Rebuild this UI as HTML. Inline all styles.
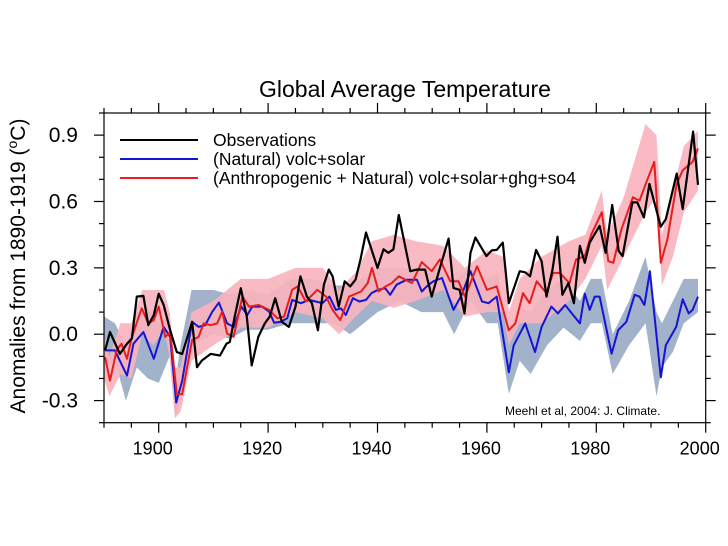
<!DOCTYPE html>
<html><head><meta charset="utf-8"><style>
html,body{margin:0;padding:0;background:#fff;}
svg{display:block;font-family:"Liberation Sans",sans-serif;}
</style></head><body>
<svg id="chart" width="728" height="546" viewBox="0 0 728 546" xmlns="http://www.w3.org/2000/svg">
<text x="405" y="97" text-anchor="middle" font-size="23">Global Average Temperature</text>
<text transform="translate(25,266) rotate(-90)" text-anchor="middle" font-size="21">Anomalies from 1890-1919 (<tspan font-size="14" dy="-8">o</tspan><tspan dy="8">C)</tspan></text>
<g id="bands"></g><g id="lines"></g><g id="axes"></g>
<g>
<line x1="120" y1="140" x2="198" y2="140" stroke="#000" stroke-width="2"/>
<text x="213" y="146" font-size="17.5">Observations</text>
<line x1="120" y1="159" x2="198" y2="159" stroke="#1414d2" stroke-width="2"/>
<text x="213" y="165" font-size="17.5">(Natural) volc+solar</text>
<line x1="120" y1="178" x2="198" y2="178" stroke="#e61e1e" stroke-width="2"/>
<text x="213" y="184" font-size="17.5">(Anthropogenic + Natural) volc+solar+ghg+so4</text>
</g>
<text x="505" y="415" font-size="12">Meehl et al, 2004:  J. Climate.</text>
</svg>
<script>
const obsYears=[1890.2,1891.1,1892.9,1894.2,1895.1,1896.0,1897.2,1898.1,1899.1,1900.0,1900.9,1902.1,1903.3,1904.3,1906.1,1907.0,1907.9,1909.5,1911.2,1912.4,1913.0,1913.9,1915.0,1916.1,1917.0,1918.2,1919.4,1920.3,1921.3,1922.5,1923.8,1925.0,1925.9,1927.1,1928.0,1929.1,1930.2,1931.1,1931.8,1932.9,1934.0,1935.0,1936.0,1936.9,1937.9,1939.0,1940.0,1941.1,1942.0,1942.9,1943.9,1946.0,1947.2,1948.7,1949.9,1951.4,1953.0,1953.9,1955.0,1955.9,1957.0,1957.9,1959.9,1960.9,1961.8,1962.9,1964.0,1966.0,1967.0,1967.9,1969.0,1970.0,1970.9,1972.0,1972.9,1973.8,1974.9,1975.9,1977.0,1977.9,1978.8,1980.6,1981.7,1982.9,1984.1,1984.8,1986.6,1987.5,1988.7,1989.7,1991.8,1992.7,1994.7,1995.8,1997.7,1998.6];
const obsValues=[-0.073,0.01,-0.089,-0.043,-0.019,0.17,0.173,0.041,0.087,0.183,0.133,0.018,-0.081,-0.089,0.056,-0.149,-0.119,-0.089,-0.096,-0.043,-0.035,0.079,0.208,0.079,-0.141,-0.012,0.049,0.079,0.163,0.056,0.033,0.125,0.262,0.17,0.14,0.018,0.224,0.292,0.262,0.125,0.239,0.216,0.247,0.338,0.46,0.376,0.3,0.384,0.368,0.384,0.539,0.285,0.292,0.292,0.17,0.3,0.432,0.209,0.201,0.094,0.368,0.437,0.353,0.379,0.381,0.414,0.14,0.285,0.28,0.262,0.381,0.33,0.17,0.292,0.441,0.178,0.231,0.14,0.399,0.323,0.414,0.49,0.368,0.584,0.376,0.353,0.596,0.596,0.528,0.68,0.486,0.52,0.726,0.566,0.916,0.675];
const antYears=[1890.2,1891.1,1892.3,1893.2,1894.2,1895.1,1896.9,1898.1,1899.1,1900.0,1901.2,1902.1,1903.3,1904.3,1906.1,1907.3,1908.2,1909.5,1910.7,1911.6,1912.5,1913.7,1915.3,1916.5,1918.3,1920.2,1921.7,1922.9,1924.4,1925.4,1926.9,1929.0,1930.6,1931.8,1933.2,1934.8,1937.0,1938.2,1939.0,1940.2,1941.5,1942.6,1943.9,1946.3,1948.1,1949.9,1951.4,1953.3,1954.8,1956.0,1958.2,1960.0,1961.8,1964.0,1965.2,1966.6,1967.8,1969.1,1970.9,1972.1,1973.3,1975.1,1976.3,1977.9,1979.1,1981.0,1982.2,1983.1,1984.6,1986.7,1987.9,1989.4,1990.6,1991.8,1993.0,1994.7,1995.8,1997.6,1998.6];
const antValues=[-0.104,-0.21,-0.073,-0.043,-0.111,-0.012,0.117,0.049,0.064,0.125,-0.012,0.01,-0.271,-0.271,-0.027,-0.012,0.049,0.041,0.049,0.102,0.003,-0.012,0.17,0.125,0.132,0.11,0.072,0.079,0.201,0.216,0.148,0.201,0.17,0.11,0.064,0.17,0.193,0.231,0.3,0.193,0.216,0.231,0.262,0.231,0.326,0.285,0.338,0.239,0.239,0.17,0.307,0.201,0.216,0.018,0.049,0.186,0.14,0.239,0.186,0.277,0.277,0.231,0.338,0.353,0.452,0.551,0.33,0.323,0.475,0.619,0.604,0.703,0.779,0.323,0.429,0.68,0.741,0.779,0.84];
const natYears=[1890.2,1891.1,1892.0,1894.2,1895.4,1897.2,1899.1,1900.9,1902.1,1903.2,1904.3,1906.1,1907.3,1908.5,1909.8,1911.0,1912.5,1913.7,1915.1,1916.2,1917.1,1918.9,1920.2,1921.1,1922.3,1923.5,1924.4,1926.0,1927.5,1928.7,1929.9,1931.2,1932.4,1933.3,1934.2,1935.5,1936.7,1937.9,1938.9,1940.1,1941.4,1942.3,1943.5,1945.3,1947.2,1948.1,1949.0,1950.2,1951.8,1953.9,1955.4,1957.0,1959.1,1960.3,1961.8,1964.0,1964.9,1967.0,1968.8,1970.0,1971.8,1973.0,1974.3,1977.0,1977.9,1978.8,1979.7,1980.6,1982.8,1984.0,1985.5,1987.0,1987.9,1988.8,1989.8,1991.8,1992.7,1994.6,1995.8,1996.9,1997.6,1998.6];
const natValues=[-0.073,-0.073,-0.073,-0.187,-0.043,0.01,-0.111,0.033,-0.012,-0.309,-0.21,0.056,0.033,0.041,0.102,0.143,0.049,0.033,0.125,0.087,0.125,0.125,0.102,0.052,0.056,0.072,0.155,0.14,0.155,0.148,0.14,0.17,0.11,0.117,0.087,0.163,0.148,0.155,0.186,0.201,0.208,0.178,0.224,0.246,0.246,0.193,0.216,0.239,0.254,0.11,0.178,0.285,0.148,0.14,0.17,-0.172,-0.05,0.049,-0.081,0.033,0.125,0.094,0.132,0.049,0.183,0.11,0.17,0.17,-0.088,0.018,0.056,0.178,0.17,0.132,0.285,-0.195,-0.05,0.033,0.158,0.094,0.11,0.17];
const antBandYears=[1890,1891,1893,1895,1897,1899,1901,1902,1903,1904,1906,1910,1915,1920,1925,1930,1933,1936,1939,1943,1947,1952,1956,1960,1963,1964,1966,1970,1975,1978,1981,1982,1985,1989,1991,1992,1994,1996,1998.6];
const antBandLow=[-0.2,-0.28,-0.18,-0.2,0.0,-0.05,0.02,-0.1,-0.38,-0.35,-0.12,-0.05,0.03,0.03,0.1,0.07,0.0,0.08,0.15,0.12,0.15,0.2,0.08,0.1,0.1,-0.05,0.05,0.05,0.15,0.25,0.4,0.2,0.35,0.55,0.62,0.22,0.35,0.55,0.65];
const antBandHigh=[0.0,-0.1,0.05,0.05,0.2,0.2,0.2,0.1,-0.15,-0.15,0.1,0.15,0.25,0.25,0.3,0.3,0.2,0.28,0.42,0.45,0.42,0.4,0.3,0.38,0.35,0.1,0.25,0.35,0.42,0.45,0.65,0.45,0.62,0.95,0.9,0.45,0.65,0.85,0.92];
const natBandYears=[1890,1892,1894,1896,1898,1900,1902,1903,1904,1906,1910,1913,1916,1920,1924,1928,1932,1935,1940,1944,1948,1952,1954,1957,1960,1962,1964,1966,1968,1971,1974,1977,1979,1981,1983,1986,1989,1991,1992,1994,1996,1998.6];
const natBandLow=[-0.15,-0.12,-0.3,-0.15,-0.2,-0.22,-0.1,-0.38,-0.3,-0.05,0.0,-0.02,0.02,0.02,0.05,0.05,0.05,0.0,0.1,0.15,0.1,0.1,0.0,0.15,0.05,0.05,-0.27,-0.12,-0.18,-0.05,0.03,-0.03,0.05,0.05,-0.18,-0.05,0.05,-0.28,-0.15,-0.08,0.05,0.1];
const natBandHigh=[0.08,0.05,-0.05,0.1,0.12,0.05,0.1,-0.22,-0.05,0.2,0.2,0.18,0.2,0.18,0.25,0.25,0.22,0.22,0.3,0.3,0.3,0.3,0.25,0.3,0.25,0.28,0.0,0.12,0.1,0.2,0.25,0.15,0.25,0.25,0.0,0.15,0.35,0.1,0.05,0.15,0.25,0.25];
const xTickLabels=[1900,1920,1940,1960,1980,2000];
const yTickLabels=[-0.3,0.0,0.3,0.6,0.9];

const NS="http://www.w3.org/2000/svg";
const L=104,R=705.7,T=113,B=422.7,X0=1890,X1=2000,Y0=-0.4,Y1=1.0;
function sx(v){return L+(v-X0)/(X1-X0)*(R-L);}
function sy(v){return B-(v-Y0)/(Y1-Y0)*(B-T);}
function mk(tag,attrs,parent){const e=document.createElementNS(NS,tag);for(const k in attrs)e.setAttribute(k,attrs[k]);parent.appendChild(e);return e;}
const bands=document.getElementById('bands'),lines=document.getElementById('lines'),axes=document.getElementById('axes');
function bandPath(ys,lo,hi){let d='';ys.forEach((y,i)=>{d+=(i?'L':'M')+sx(y).toFixed(1)+','+sy(hi[i]).toFixed(1);});for(let i=ys.length-1;i>=0;i--)d+='L'+sx(ys[i]).toFixed(1)+','+sy(lo[i]).toFixed(1);return d+'Z';}
function linePath(ys,vs){return ys.map((y,i)=>(i?'L':'M')+sx(y).toFixed(1)+','+sy(vs[i]).toFixed(1)).join('');}
let e;
e=mk('path',{d:bandPath(natBandYears,natBandLow,natBandHigh),fill:'#a3b2cb'},bands);


e=mk('path',{d:bandPath(antBandYears,antBandLow,antBandHigh),fill:'#f9b2bd','fill-opacity':'0.9'},bands);


e=mk('path',{d:linePath(natYears,natValues),fill:'none',stroke:'#1414d2','stroke-width':2,'stroke-linejoin':'round'},lines);


e=mk('path',{d:linePath(antYears,antValues),fill:'none',stroke:'#e61e1e','stroke-width':2,'stroke-linejoin':'round'},lines);


e=mk('path',{d:linePath(obsYears,obsValues),fill:'none',stroke:'#000','stroke-width':2.2,'stroke-linejoin':'round'},lines);


e=mk('rect',{x:L,y:T,width:R-L,height:B-T,fill:'none',stroke:'#000','stroke-width':1.2},axes);


for(let yr=1890;yr<=2000;yr+=5){const maj=yr%20===0;const len=maj?10:5;const x=sx(yr);
 mk('line',{x1:x,y1:B,x2:x,y2:B+len,stroke:'#000','stroke-width':1.2},axes);
 mk('line',{x1:x,y1:T,x2:x,y2:T-len,stroke:'#000','stroke-width':1.2},axes);}
for(let k=-4;k<=10;k++){const v=k/10;const maj=(k%3===0);const len=maj?10:5;const y=sy(v);
 mk('line',{x1:L,y1:y,x2:L-len,y2:y,stroke:'#000','stroke-width':1.2},axes);
 mk('line',{x1:R,y1:y,x2:R+len,y2:y,stroke:'#000','stroke-width':1.2},axes);}
xTickLabels.forEach(t=>{const el=mk('text',{x:sx(t)-6,y:B+32,'text-anchor':'middle','font-size':18},axes);el.textContent=t;
 
 });
yTickLabels.forEach(t=>{const el=mk('text',{x:78,y:sy(t)+7,'text-anchor':'end','font-size':21},axes);el.textContent=t.toFixed(1);
 
 });
</script>
</body></html>
